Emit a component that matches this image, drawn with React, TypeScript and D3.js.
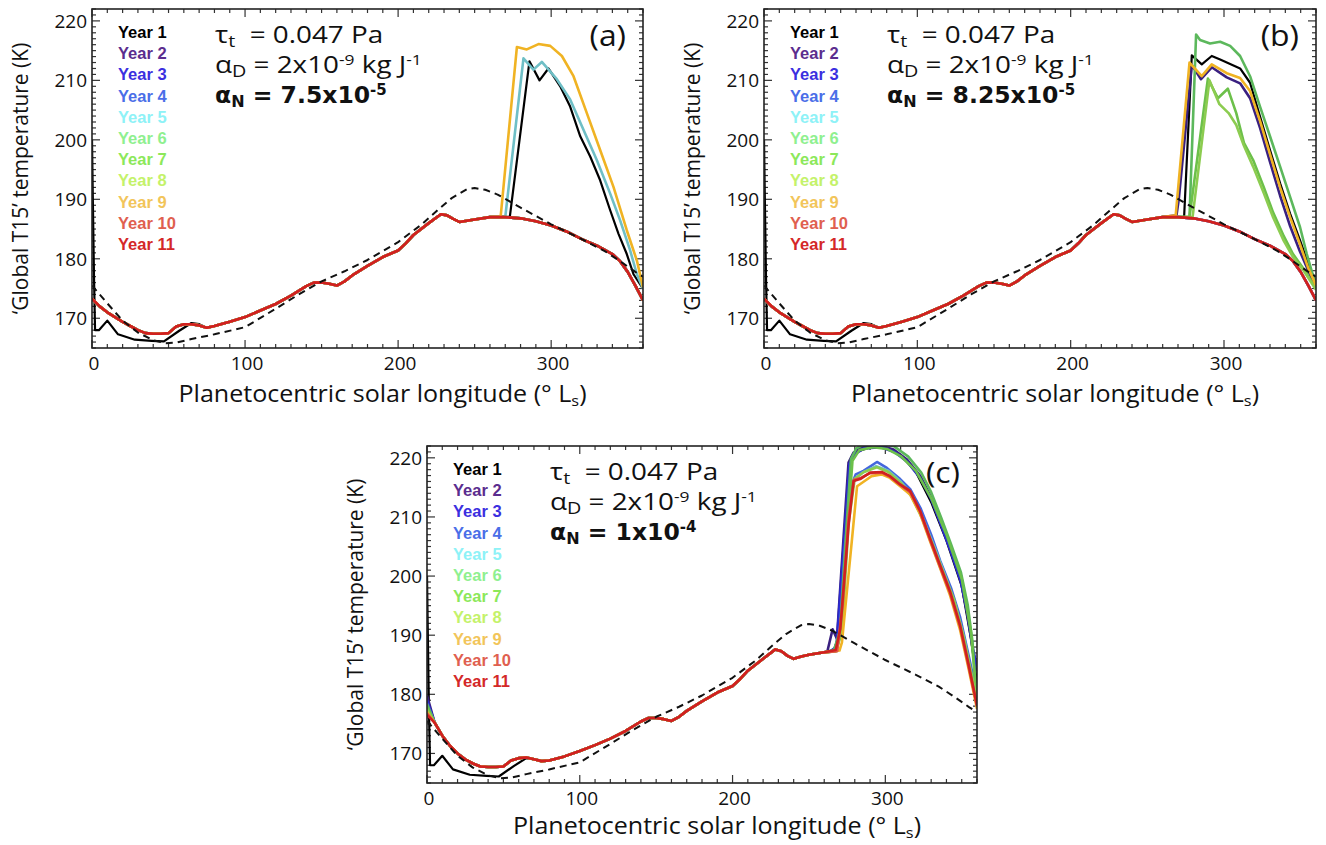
import React from 'react';
import * as d3 from 'd3';

// ---------------- DATA ----------------
const YEARS = ['Year 1', 'Year 2', 'Year 3', 'Year 4', 'Year 5', 'Year 6', 'Year 7', 'Year 8', 'Year 9', 'Year 10', 'Year 11'];
const LEGEND_COLORS = ['#000000', '#5b2d8e', '#3b2fe0', '#4a6ee8', '#8ef2f7', '#8ff08f', '#8ce85a', '#c4f26a', '#f2c55a', '#e0604f', '#d42828'];
const LINE_COLORS = ['#000000', '#3a2080', '#2a2ad0', '#4466dd', '#6fbfc6', '#5cb85c', '#6cc04a', '#8ccc50', '#f0b323', '#e05545', '#d02020'];

const X_TICKS = [0, 100, 200, 300];
const Y_TICKS = [170, 180, 190, 200, 210, 220];

// Common seasonal curve (Ls, K)
const LS = [0, 5, 10, 15, 20, 25, 30, 35, 40, 45, 50, 55, 60, 65, 70, 75, 80, 90, 100, 110, 120, 130, 140, 145, 150, 155, 160, 165, 170, 180, 190, 200, 205, 210, 220, 228, 232, 236, 240, 245, 250, 260, 270, 280, 290, 300, 310, 320, 330, 340, 345, 350, 355, 360];
const BASE_AB = [173.3, 172, 171, 170.2, 169.4, 168.7, 168, 167.5, 167.4, 167.4, 167.5, 168.6, 169, 169, 168.8, 168.4, 168.7, 169.4, 170.2, 171.3, 172.4, 173.8, 175.4, 176, 176, 175.8, 175.5, 176.2, 177.2, 178.8, 180.3, 181.4, 182.6, 184, 186, 187.5, 187.3, 186.7, 186.2, 186.4, 186.6, 187, 187, 186.8, 186.3, 185.6, 184.6, 183.3, 182.2, 180.8, 179.6, 177.8, 175.5, 173];
const BASE_C = [177.5, 175.2, 173, 171.3, 170, 169, 168.3, 167.8, 167.7, 167.7, 167.8, 168.8, 169.2, 169.3, 169, 168.7, 168.8, 169.5, 170.4, 171.4, 172.5, 173.8, 175.4, 176, 176, 175.8, 175.5, 176.2, 177.2, 178.8, 180.3, 181.4, 182.6, 184, 186, 187.6, 187.3, 186.5, 186, 186.4, 186.7, 187.1, 187.3, 186.8, 186.3, 185.6, 184.6, 183.3, 182.2, 180.8, 179.6, 177.8, 175.5, 173];
// Year-by-year values at Ls 0 for panel (c)
const C_START = [200, 179.8, 179, 178.5, 178, 178.3, 177.8, 177.5, 177, 176.8, 176.5];

// Reference (dashed) curve
const REF_LS = [0, 10, 20, 30, 40, 48, 55, 65, 80, 100, 120, 135, 150, 165, 180, 200, 215, 225, 235, 245, 250, 257, 265, 280, 300, 320, 335, 345, 355, 360];
const REF_T = [175.5, 172.5, 169.6, 167.6, 166.3, 165.8, 165.9, 166.5, 167.3, 168.5, 171.6, 174, 176.2, 177.9, 179.8, 182.8, 185.7, 188, 190.2, 191.7, 191.9, 191.6, 190.8, 188.6, 185.8, 183.3, 181.3, 179.6, 177.8, 177];

// Year 1 spin-up at the start of the run
const Y1_START: [number, number][] = [[0, 200], [0.6, 189], [1.3, 177], [2, 168], [4.5, 168], [10, 169.6], [17, 167.3], [28, 166.4], [39, 166.2], [47, 166.1], [57, 167.9], [65, 169.2], [70, 169]];

// Panel (a) dust-storm years
const A_Y1: [number, number][] = [[273, 187.1], [285.8, 213.2], [292.4, 210], [298.2, 212], [305.9, 209], [312.4, 205.6], [319, 200.6], [325.5, 197.2], [332, 193.2], [338.5, 188.2], [344, 184.2], [349.4, 180.8], [353.8, 177.4], [360, 175]];
const A_Y5: [number, number][] = [[270, 187], [281.9, 213.7], [288.4, 211.8], [293.9, 213.1], [303.7, 210.2], [312.4, 206.8], [321.1, 201.7], [329.8, 196.6], [338.5, 191], [345, 186.5], [351.6, 181.4], [356, 177.4], [360, 175]];
const A_Y9: [number, number][] = [[267, 187.1], [277.6, 215.6], [284.1, 215.2], [291.7, 216.1], [299.4, 215.8], [307, 214.1], [314.6, 210.7], [323.3, 204.5], [332, 198.3], [340.7, 192.1], [349.4, 184.8], [356, 179.7], [360, 175.2]];

// Panel (b) dust-storm years
const B_Y1: [number, number][] = [[274, 187.1], [279, 214.2], [285.5, 212.7], [292, 214.1], [297.5, 213.5], [310.5, 212], [317, 209.6], [323.5, 203.9], [330, 198.3], [336.6, 192.7], [343.1, 187.6], [349.6, 183.1], [355, 179.1], [360, 176]];
const B_Y2: [number, number][] = [[269, 187.3], [270.5, 190], [279, 212.6], [285, 210.2], [292, 212.2], [301.8, 210.5], [310.5, 209.5], [317, 207], [323.5, 202], [330, 196.3], [336.6, 190.6], [343.1, 185.5], [349.6, 181.2], [354, 178.6], [360, 175]];
const B_Y6: [number, number][] = [[277.5, 187], [281.8, 217.7], [284.4, 216.8], [290.9, 216.2], [297.5, 216.5], [304, 215.8], [310.5, 214.1], [317, 210.7], [323.5, 205.6], [330, 200.6], [336.6, 195.5], [343.1, 190.4], [349.6, 185.3], [354, 180.8], [358.3, 176.9], [360, 175.8]];
const B_Y7: [number, number][] = [[277.5, 187], [289.5, 210.3], [296, 207], [302.5, 208.6], [308, 204.5], [313, 199.5], [319, 196.6], [326, 192], [332, 187.8], [339, 183.8], [345, 180.8], [352, 178.3], [360, 175]];
const B_Y8: [number, number][] = [[279.5, 187], [290.5, 210], [297, 206], [303, 204.5], [308, 202.5], [313, 199], [319, 195.5], [326, 191], [332, 187], [339, 183], [345, 180.3], [352, 178], [360, 174.8]];
const B_Y9: [number, number][] = [[268.5, 187.3], [277.5, 213], [285.5, 210.7], [292, 212.7], [301.8, 211.2], [310.5, 210.4], [317, 208.2], [323.5, 203.2], [330, 197.6], [336.6, 192], [343.1, 187], [349.6, 182.4], [355, 178.4], [360, 175.5]];

// Panel (c) dust-storm years (every year)
const C_Y1: [number, number][] = [[266, 187.3], [270, 190], [274, 208], [277, 219], [281, 221], [290, 221.8], [300, 221.7], [310, 220.5], [320, 217.6], [330, 212.5], [340, 206], [350, 198.3], [356, 189.5], [360, 182]];
const C_Y2: [number, number][] = [[262, 187.2], [265.5, 191], [268.3, 189.4], [272.6, 206.3], [275.9, 219.2], [279.2, 220.9], [285.7, 221.9], [296.6, 222.1], [305.4, 221.4], [314.2, 219.7], [322.9, 216.9], [329.4, 213.6], [336, 209.1], [342.5, 204.6], [349.1, 199.5], [353.5, 193.9], [356.8, 188.3], [360, 184]];
const C_Y3: [number, number][] = [[264, 187.3], [268, 188], [273, 206], [276.5, 219], [280, 220.6], [286, 221.6], [297, 221.8], [306, 221], [314.5, 219.3], [323, 216.5], [330, 213], [336.5, 208.6], [343, 204], [349.5, 199], [354, 193.3], [357.5, 187.5], [360, 184.5]];
const C_Y4: [number, number][] = [[266, 187.3], [270, 190], [273.5, 205], [278, 215.5], [280.6, 217.2], [285.7, 217.8], [294.5, 219.3], [301, 218.3], [309.7, 216.4], [316.3, 214.7], [323, 211.5], [330, 207], [336, 202.5], [343, 198], [349, 193], [355, 186], [360, 180]];
const C_Y5: [number, number][] = [[267, 187.3], [271.5, 192], [275, 208], [279, 216], [285, 217.5], [294, 218.6], [302, 217.8], [310, 216], [318, 213.5], [325, 209.5], [332, 205], [339, 200.2], [346, 195], [352, 189], [356, 183.5], [360, 179]];
const C_Y6: [number, number][] = [[266.5, 187.5], [270.5, 191], [274.5, 208], [277.5, 219.8], [281, 221.6], [287, 222.4], [297, 222.5], [306, 221.9], [315, 220.2], [323.5, 217.5], [330, 214.2], [336.5, 209.9], [343, 205.4], [349.5, 200.6], [354, 195], [357, 189], [360, 178]];
const C_Y7: [number, number][] = [[267.5, 187.3], [271, 190], [275, 207], [278.5, 219.5], [283, 221.3], [292, 221.8], [301, 221.5], [310, 220.3], [320, 217.8], [330, 213.2], [340, 207], [350, 199.5], [356, 190.5], [360, 179]];
const C_Y8: [number, number][] = [[268, 187.3], [272, 192], [276, 209], [280, 216.5], [286, 217.6], [294.5, 218.4], [302, 217.6], [310, 215.8], [317, 213.5], [324, 209.8], [331, 205.3], [338, 200.6], [345, 196], [351, 190], [356, 184], [360, 179]];
const C_Y9: [number, number][] = [[270, 187.4], [271.6, 188.8], [278.2, 206.3], [281.5, 215.2], [286, 216], [291, 216.9], [297.5, 217.2], [303, 216.6], [309.7, 215.2], [316.2, 213.8], [322.8, 210.5], [329.4, 205.8], [335.9, 201.3], [342.5, 196.6], [349, 190.8], [354.6, 184.2], [360, 177.5]];
const C_Y10: [number, number][] = [[268.5, 187.3], [272, 195], [276, 210], [279.5, 216.3], [284, 216.6], [290, 217.4], [297.7, 217.5], [303.1, 216.8], [309.7, 215.4], [316.2, 214.2], [322.8, 210.8], [329.4, 206], [335.9, 201.5], [342.5, 197], [349, 191.3], [354.6, 184.6], [360, 178]];
const C_Y11: [number, number][] = [[267.5, 187.5], [270.5, 191], [275.9, 208.5], [279.2, 216.1], [283.5, 216.4], [290, 217.5], [297.7, 217.6], [303.1, 216.9], [309.7, 215.5], [316.2, 214.4], [322.8, 211], [329.4, 206.3], [335.9, 201.8], [342.5, 197.3], [349, 191.6], [354.6, 184.9], [360, 178.1]];

type Pt = [number, number];

function buildLine(base: number[], start: Pt[] | null, storm: Pt[] | null): Pt[] {
  const pts: Pt[] = [];
  const startEnd = start ? start[start.length - 1][0] : -Infinity;
  const stormStart = storm ? storm[0][0] : Infinity;
  if (start) pts.push(...start);
  LS.forEach((x, i) => {
    if (x > startEnd && x < stormStart) pts.push([x, base[i]]);
  });
  if (storm) pts.push(...storm);
  return pts;
}

type PanelCfg = {
  id: string;
  left: number; top: number; width: number; height: number; titleDy: number;
  letter: string; nValue: string; nExp: string;
  base: number[];
  storms: (Pt[] | null)[];
  cStart?: boolean;
};

const PANELS: PanelCfg[] = [
  { id: 'a', left: 92, top: 9, width: 551, height: 339, titleDy: 54, letter: '(a)', nValue: '7.5x10', nExp: '-5', base: BASE_AB,
    storms: [A_Y1, null, null, null, A_Y5, null, null, null, A_Y9, null, null] },
  { id: 'b', left: 764, top: 9, width: 552, height: 339, titleDy: 54, letter: '(b)', nValue: '8.25x10', nExp: '-5', base: BASE_AB,
    storms: [B_Y1, B_Y2, null, null, null, B_Y6, B_Y7, B_Y8, B_Y9, null, null] },
  { id: 'c', left: 427, top: 446, width: 550, height: 337, titleDy: 51, letter: '(c)', nValue: '1x10', nExp: '-4', base: BASE_C, cStart: true,
    storms: [C_Y1, C_Y2, C_Y3, C_Y4, C_Y5, C_Y6, C_Y7, C_Y8, C_Y9, C_Y10, C_Y11] },
];

const SANS = '"Open Sans", "DejaVu Sans", sans-serif';
const WIDE = '"DejaVu Sans", Verdana, sans-serif';
const LEG = '"Liberation Sans", Arial, sans-serif';

function Panel({ p }: { p: PanelCfg }) {
  const x = d3.scaleLinear().domain([0, 360]).range([p.left, p.left + p.width]);
  const y = d3.scaleLinear().domain([165, 222]).range([p.top + p.height, p.top]);
  const line = d3.line<Pt>().x(d => x(d[0])).y(d => y(d[1]));
  const right = p.left + p.width;
  const bottom = p.top + p.height;
  const xMinor = d3.range(0, 361, 10);
  const yMinor = d3.range(165, 223, 1);
  const clipId = `clip-${p.id}`;

  const lines = YEARS.map((_, i) => {
    let start: Pt[] | null = null;
    if (i === 0) start = Y1_START;
    else if (p.cStart) start = [[0, C_START[i]]];
    return buildLine(p.base, start, p.storms[i]);
  });

  const legX = p.left + 26;
  const legY = p.top + 29;
  const annX = p.left + 123;
  const annY = p.top + 34;

  return (
    <g>
      <defs>
        <clipPath id={clipId}>
          <rect x={p.left} y={p.top} width={p.width} height={p.height} />
        </clipPath>
      </defs>
      {/* ticks */}
      <g stroke="#333" strokeWidth={1.2}>
        {xMinor.map(v => {
          const len = v % 100 === 0 ? 8 : 4;
          return (
            <g key={'x' + v}>
              <line x1={x(v)} x2={x(v)} y1={bottom} y2={bottom - len} />
              <line x1={x(v)} x2={x(v)} y1={p.top} y2={p.top + len} />
            </g>
          );
        })}
        {yMinor.map(v => {
          const len = v % 10 === 0 ? 8 : 4;
          return (
            <g key={'y' + v}>
              <line x1={p.left} x2={p.left + len} y1={y(v)} y2={y(v)} />
              <line x1={right} x2={right - len} y1={y(v)} y2={y(v)} />
            </g>
          );
        })}
      </g>
      {/* tick labels */}
      {X_TICKS.map(v => (
        <text key={'xl' + v} x={x(v) + 2} y={bottom + 22} textAnchor="middle" fontFamily={SANS} fontSize={19} fill="#111">{v}</text>
      ))}
      {Y_TICKS.map(v => (
        <text key={'yl' + v} x={p.left - 5} y={y(v) + 7} textAnchor="end" fontFamily={SANS} fontSize={19} fill="#111">{v}</text>
      ))}
      {/* axis titles */}
      <g transform={`translate(${(p.left + right) / 2 + 15},${bottom + p.titleDy}) scale(1.09,1)`}>
        <text x={0} y={0} textAnchor="middle" fontFamily={SANS} fontSize={23} fill="#111">
          Planetocentric solar longitude (° L<tspan fontSize={15} dy={4}>s</tspan><tspan dy={-4}>)</tspan>
        </text>
      </g>
      <text transform={`translate(${p.left - 64},${(p.top + bottom) / 2}) rotate(-90)`} textAnchor="middle" fontFamily={SANS} fontSize={21} fill="#111">
        ‘Global T15’ temperature (K)
      </text>
      {/* data */}
      <g clipPath={`url(#${clipId})`} fill="none" strokeLinejoin="round">
        {lines.map((pts, i) => (
          <path key={'l' + i} d={line(pts) || ''} stroke={LINE_COLORS[i]} strokeWidth={i === 0 ? 2.2 : 2.6} />
        ))}
        <path d={line(REF_LS.map((v, i) => [v, REF_T[i]] as Pt)) || ''} stroke="#111" strokeWidth={2} strokeDasharray="7,5" />
      </g>
      {/* box */}
      <rect x={p.left} y={p.top} width={p.width} height={p.height} fill="none" stroke="#222" strokeWidth={1.6} />
      {/* legend */}
      {YEARS.map((name, i) => (
        <text key={'lg' + i} x={legX} y={legY + i * 21.2} fontFamily={LEG} fontWeight="bold" fontSize={16.5} fill={LEGEND_COLORS[i]}>{name}</text>
      ))}
      {/* annotations */}
      <g transform={`translate(${annX},${annY}) scale(1.16,1)`} fontFamily={SANS} fontSize={24} fill="#111">
        <text x={0} y={0}>τ<tspan fontSize={17} dy={4}>t</tspan><tspan dy={-4}>{'\u00a0\u00a0= 0.047 Pa'}</tspan></text>
        <text x={0} y={30}>α<tspan fontSize={17} dy={4}>D</tspan><tspan dy={-4}>{' = 2x10'}</tspan><tspan fontSize={15} dy={-8}>-9</tspan><tspan dy={8}>{' kg J'}</tspan><tspan fontSize={15} dy={-8}>-1</tspan></text>
      </g>
      <text x={annX} y={annY + 60} fontFamily={WIDE} fontWeight="bold" fontSize={23.5} fill="#111">α<tspan fontSize={16} dy={4}>N</tspan><tspan dy={-4}>{' = ' + p.nValue}</tspan><tspan fontSize={15} dy={-8}>{p.nExp}</tspan></text>
      <g transform={`translate(${right - 17},${p.top + 37}) scale(1.1,1)`}>
        <text x={0} y={0} textAnchor="end" fontFamily={SANS} fontSize={29} fill="#111">{p.letter}</text>
      </g>
    </g>
  );
}

export default function App() {
  return (
    <svg width={1326} height={845} style={{ position: 'absolute', left: 0, top: 0, background: '#fff' }}>
      <rect x={0} y={0} width={1326} height={845} fill="#fff" />
      {PANELS.map(p => <Panel key={p.id} p={p} />)}
    </svg>
  );
}
